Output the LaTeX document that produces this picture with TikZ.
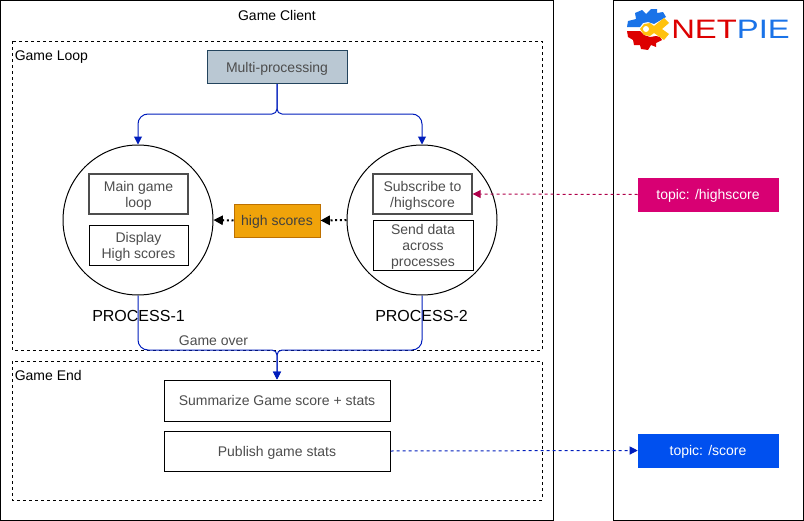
\documentclass[tikz,border=0pt]{standalone}
\usepackage{fontspec}
\setmainfont{Liberation Sans}
\usetikzlibrary{calc,positioning,arrows.meta}
\definecolor{fundo}{HTML}{FFFFFF}
\definecolor{texto}{HTML}{4D4D4D}
\definecolor{azul}{HTML}{001DBC}
\definecolor{azulclaro}{HTML}{0050EF}
\definecolor{carmim}{HTML}{A50040}
\definecolor{rosa}{HTML}{D80073}
\definecolor{ambar}{HTML}{F0A30A}
\definecolor{ambarborda}{HTML}{BD7000}
\definecolor{cinza}{HTML}{BAC8D3}
\definecolor{cinzaborda}{HTML}{23445D}
\definecolor{logovermelho}{HTML}{DD0000}
\definecolor{logoazul}{HTML}{1A73E8}
\definecolor{logoamarelo}{HTML}{FFC20E}
\tikzset{
  caixa/.style={draw=black,line width=0.75pt,fill=fundo,text=texto,font=\fontsize{10.5}{12}\selectfont,align=center,inner sep=0pt,text depth=0pt},
  desce/.style={text depth=-1.5pt},
  processo/.style={circle,draw=black,line width=0.75pt,fill=fundo,minimum size=112.5pt,inner sep=0pt},
  topico/.style={text=white,font=\fontsize{10.5}{12}\selectfont,minimum width=105pt,minimum height=24.75pt,inner sep=0pt,text depth=0pt},
  rotulo/.style={font=\fontsize{10.5}{12}\selectfont,inner sep=0pt,text depth=0pt},
  ligacao/.style={azul,line width=0.75pt,-{Triangle[length=6pt,width=6pt]}},
  tracejado/.style={line width=0.75pt,dash pattern=on 2.25pt off 2.25pt,-{Triangle[length=6pt,width=6pt]}}
}
\begin{document}
\begin{tikzpicture}[x=0.75pt,y=-0.75pt]
      \useasboundingbox (0,0) rectangle (804,521);
      \draw[black,line width=0.75pt] (0.5,0.5) rectangle (553,520);
      \draw[black,line width=0.75pt] (613,0.5) rectangle (803,520);
      \draw[black,line width=0.6pt,dash pattern=on 2.25pt off 2.25pt] (12,41) rectangle (542,350);
      \draw[black,line width=0.6pt,dash pattern=on 2.25pt off 2.25pt] (12,361) rectangle (542,500);
      \node[rotulo] (titulo) at (277,15.5) {Game Client};
      \node[rotulo,anchor=west] (laco) at (14.5,55.5) {Game Loop};
      \node[rotulo,anchor=west] (fim) at (14.5,375.5) {Game End};
      % logo
      \begin{scope}
        \fill[logoazul] (627,27) -- (628,21) -- (636,19) -- (635,13) -- (642,10) -- (646,14) -- (651,9) -- (657,9) -- (657,13) -- (663,12) -- (666,17) -- (654,24) -- (648,22) -- (643,23) -- (640,27) -- cycle;
        \fill[logovermelho] (627,31) -- (640,31) -- (644,35) -- (650,37) -- (656,36) -- (660,37) -- (662,40) -- (656,43) -- (656,47) -- (651,45) -- (648,50) -- (641,49) -- (640,45) -- (634,45) -- (633,40) -- (628,37) -- cycle;
        \fill[logoamarelo] (640,29) -- (644,24) -- (650,23) -- (654,26) -- (664,18) -- (669,23) -- (662,29) -- (669,34) -- (664,40) -- (654,33) -- (650,36) -- (644,35) -- cycle;
        \fill[fundo] (646,29) circle (2.25pt);
      \end{scope}
      \node[anchor=west,inner sep=0pt,font=\fontsize{20}{20}\selectfont] (logotxt) at (671,29) {\scalebox{1.23}[1]{\textcolor{logovermelho}{NET}\textcolor{logoazul}{PIE}}};
      \node[caixa,fill=cinza,draw=cinzaborda,minimum width=105pt,minimum height=24.75pt] (multi) at (277,67) {Multi-processing};
      \node[processo] (procA) at (138,220) {};
      \node[processo] (procB) at (422,220) {};
      \node[caixa,desce,draw=texto,line width=1pt,minimum width=74.25pt,minimum height=30pt] (mainloop) at (138.5,194) {Main game\\loop};
      \node[caixa,desce,minimum width=74.25pt,minimum height=30pt] (display) at (138.5,245) {Display\\High scores};
      \node[caixa,desce,draw=texto,line width=1pt,minimum width=74.25pt,minimum height=30pt] (subscribe) at (422.5,194) {Subscribe to\\/highscore};
      \node[caixa,desce,minimum width=75pt,minimum height=37.5pt] (send) at (423,245) {Send data\\across\\processes};
      \node[caixa,desce,fill=ambar,draw=ambarborda,minimum width=64.5pt,minimum height=24.75pt,text=black!75] (high) at (277,220.5) {high scores};
      \node[font=\fontsize{12}{14}\selectfont,inner sep=0pt] (rotA) at (138.5,316) {PROCESS-1};
      \node[font=\fontsize{12}{14}\selectfont,inner sep=0pt] (rotB) at (421.5,316) {PROCESS-2};
      \node[caixa,minimum width=169.5pt,minimum height=30.75pt] (resumo) at (277,400.5) {Summarize Game score + stats};
      \node[caixa,minimum width=169.5pt,minimum height=30pt] (publica) at (277,451) {Publish game stats};
      \node[topico,fill=rosa,draw=rosa] (tophigh) at (708,194.5) {topic: /highscore};
      \node[topico,fill=azulclaro,draw=azulclaro] (topscore) at (708,450.5) {topic: /score};
      \node[rotulo,text=texto] (gameover) at (213.5,341) {Game over};
      \coordinate (forkA) at (277,114);
      \coordinate (forkB) at (277,350);
      \draw[ligacao,rounded corners=3.75pt] (multi.south) -- (forkA) [rounded corners=7.5pt] -- (forkA -| procA) -- (procA.north);
      \draw[ligacao,rounded corners=3.75pt] (multi.south) -- (forkA) [rounded corners=7.5pt] -- (forkA -| procB) -- (procB.north);
      \draw[ligacao,rounded corners=7.5pt] (procA.south) -- (procA.south |- forkB) [rounded corners=3.75pt] -- (forkB) -- (resumo.north);
      \draw[ligacao,rounded corners=7.5pt] (procB.south) -- (procB.south |- forkB) [rounded corners=3.75pt] -- (forkB) -- (resumo.north);
      \draw[black,line width=1.5pt,dotted,-{Triangle[length=7pt,width=7pt]}] (procB.west) -- (high.east);
      \draw[black,line width=1.5pt,dotted,-{Triangle[length=7pt,width=7pt]}] (high.west) -- (procA.east);
      \draw[tracejado,carmim!80!rosa] (tophigh.west) -- (subscribe.east);
      \draw[tracejado,azul] (publica.east) -- (topscore.west);
    \end{tikzpicture}
\end{document}
